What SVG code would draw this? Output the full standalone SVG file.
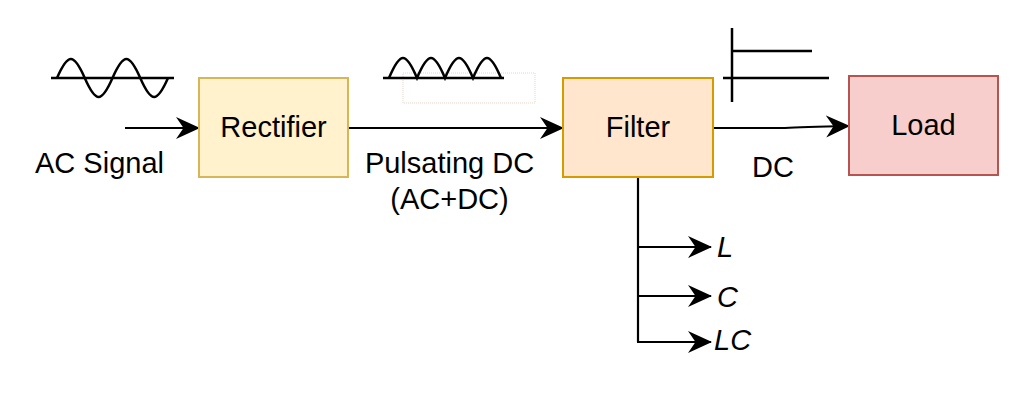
<svg xmlns="http://www.w3.org/2000/svg" width="1024" height="402" viewBox="0 0 1024 402">
  <style>
    .lbl { font-family: "Liberation Sans", Arial, sans-serif; font-size: 29px; fill: #000000; }
    .it { font-style: italic; }
    .wire { fill: none; stroke: #000000; stroke-width: 2.2; }
    .wave { fill: none; stroke: #000000; stroke-width: 2.5; }
  </style>
  <defs>
    <marker id="arrow" markerUnits="userSpaceOnUse" markerWidth="25" markerHeight="23" refX="23" refY="11" orient="auto" viewBox="0 0 25 23">
      <path d="M0,0 L24,11 L0,22 L7.5,11 Z" fill="#000000"/>
    </marker>
  </defs>
  <rect width="1024" height="402" fill="#ffffff"/>

  <g id="ac-wave">
    <line class="wave" x1="51" y1="78" x2="174" y2="78"/>
    <path class="wave" d="M57,78 c11.1,-25.3 16.65,-25.3 27.75,0 c11.1,25.3 16.65,25.3 27.75,0 c11.1,-25.3 16.65,-25.3 27.75,0 c11.1,25.3 16.65,25.3 27.75,0"/>
  </g>

  <g id="pulsating-wave">
    <rect x="403" y="73" width="132" height="30" fill="none" stroke="#ead3c8" stroke-width="1" stroke-dasharray="1 1"/>
    <line class="wave" x1="383" y1="78" x2="504" y2="78"/>
    <path class="wave" d="M389,78 c11.2,-26.7 16.8,-26.7 28,0 c11.2,-26.7 16.8,-26.7 28,0 c11.2,-26.7 16.8,-26.7 28,0 c11.2,-26.7 16.8,-26.7 28,0"/>
  </g>

  <g id="dc-symbol">
    <line class="wave" x1="732" y1="28" x2="732" y2="102"/>
    <line class="wave" x1="732" y1="51" x2="812" y2="51"/>
    <line class="wave" x1="723" y1="78" x2="829" y2="78"/>
  </g>

  <g id="connectors">
    <line class="wire" x1="125" y1="128" x2="199" y2="128" marker-end="url(#arrow)"/>
    <line class="wire" x1="348" y1="128" x2="563" y2="128" marker-end="url(#arrow)"/>
    <path class="wire" d="M713,128 L785,128 Q800,127 849,126" marker-end="url(#arrow)"/>
    <path class="wire" d="M638,177 L638,342"/>
    <line class="wire" x1="638" y1="247" x2="711" y2="247" marker-end="url(#arrow)"/>
    <line class="wire" x1="638" y1="296" x2="711" y2="296" marker-end="url(#arrow)"/>
    <line class="wire" x1="637" y1="342" x2="711" y2="342" marker-end="url(#arrow)"/>
  </g>

  <g id="rectifier">
    <rect x="199" y="78" width="149" height="99" fill="#fff2cc" stroke="#d6b656" stroke-width="2"/>
    <text class="lbl" x="273.5" y="137" text-anchor="middle">Rectifier</text>
  </g>

  <g id="filter">
    <rect x="563" y="78" width="150" height="99" fill="#ffe6cc" stroke="#d79b00" stroke-width="2"/>
    <text class="lbl" x="638" y="137" text-anchor="middle">Filter</text>
  </g>

  <g id="load">
    <rect x="849" y="76" width="149" height="99" fill="#f8cecc" stroke="#b85450" stroke-width="2"/>
    <text class="lbl" x="923.5" y="135" text-anchor="middle">Load</text>
  </g>

  <g id="labels">
    <text class="lbl" x="35" y="173">AC Signal</text>
    <text class="lbl" x="449.5" y="173" text-anchor="middle">Pulsating DC</text>
    <text class="lbl" x="449.5" y="209" text-anchor="middle">(AC+DC)</text>
    <text class="lbl" x="752" y="177">DC</text>
    <text class="lbl it" x="717" y="257">L</text>
    <text class="lbl it" x="717" y="307">C</text>
    <text class="lbl it" x="714" y="350">LC</text>
  </g>
</svg>
